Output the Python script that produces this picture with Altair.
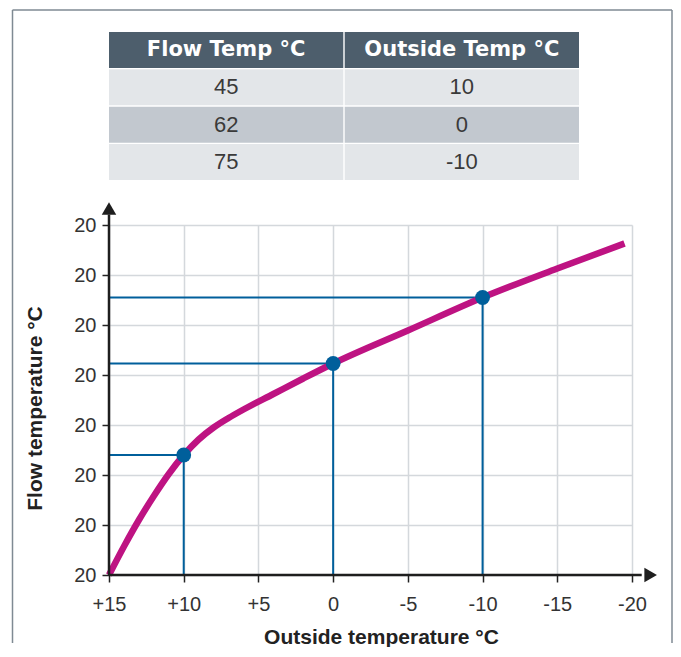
import altair as alt
import pandas as pd

# ---------------- data ----------------
table_headers = ["Flow Temp °C", "Outside Temp °C"]
flow_temp = [45, 62, 75]
outside_temp = [10, 0, -10]

curve_outside = [15, 14, 13, 12, 11, 10, 9, 8, 7, 6, 4, 2, 0, -5, -10, -15, -19.5]
curve_flow = [20, 25.7, 31, 35.8, 40.2, 44, 47.1, 49.5, 51.4, 53.1, 56.2, 59.3, 62.3,
              68.9, 75.5, 81.3, 86.3]

point_outside = [10, 0, -10]
point_flow = [44, 62.3, 75.5]

x_ticks = [15, 10, 5, 0, -5, -10, -15, -20]
x_tick_labels = ["+15", "+10", "+5", "0", "-5", "-10", "-15", "-20"]
y_ticks = [20, 30, 40, 50, 60, 70, 80, 90]
y_tick_labels = ["20", "20", "20", "20", "20", "20", "20", "20"]

x_min, x_max = 15, -20
y_min, y_max = 20, 90
x_arrow = -21.25
y_arrow = 93.3

MAGENTA = "#BE1382"
BLUE = "#005F9B"
FONT = "Liberation Sans"

# ---------------- table ----------------
rows = ["h", "r1", "r2", "r3"]
cells = []
for h in table_headers:
    cells.append({"row": "h", "col": h, "text": h, "kind": "header"})
for i, (f, o) in enumerate(zip(flow_temp, outside_temp)):
    kind = "dark" if i % 2 == 1 else "light"
    cells.append({"row": rows[i + 1], "col": table_headers[0], "text": str(f), "kind": kind})
    cells.append({"row": rows[i + 1], "col": table_headers[1], "text": str(o), "kind": kind})
tdf = pd.DataFrame(cells)

tx = alt.X("col:N", scale=alt.Scale(domain=table_headers, paddingInner=0.006, paddingOuter=0), axis=None)
ty = alt.Y("row:N", scale=alt.Scale(domain=rows, paddingInner=0.04, paddingOuter=0), axis=None)

t_rect = alt.Chart(tdf).mark_rect().encode(
    x=tx, y=ty,
    color=alt.Color("kind:N", scale=alt.Scale(domain=["header", "light", "dark"],
                                               range=["#4D5E6C", "#E3E6E9", "#C2C8CF"]), legend=None),
)
t_head = alt.Chart(tdf).transform_filter("datum.kind == 'header'").mark_text(
    font="DejaVu Sans", fontWeight="bold", fontSize=21, color="white", baseline="middle"
).encode(x=tx, y=ty, text="text:N")
t_body = alt.Chart(tdf).transform_filter("datum.kind != 'header'").mark_text(
    font=FONT, fontSize=22, color="#3A3A3A", baseline="middle"
).encode(x=tx, y=ty, text="text:N")

table = alt.layer(t_rect, t_head, t_body).properties(width=470, height=148)

# ---------------- main chart ----------------
xs = alt.Scale(domain=[x_min, x_max], nice=False, zero=False)
ys = alt.Scale(domain=[y_min, y_max], nice=False, zero=False)

x_label_expr = " : ".join(
    f"datum.value == {v} ? '{l}'" for v, l in zip(x_ticks, x_tick_labels)
) + " : ''"
y_label_expr = " : ".join(
    f"datum.value == {v} ? '{l}'" for v, l in zip(y_ticks, y_tick_labels)
) + " : ''"

x_axis = alt.Axis(values=x_ticks, labelExpr=x_label_expr, labelPadding=12, labelFlush=False,
                  labelOverlap=False, title="Outside temperature °C", titleX=272, titleY=62,
                  titleAlign="center", titleBaseline="middle", titleAngle=0)
y_axis = alt.Axis(values=y_ticks, labelExpr=y_label_expr, labelPadding=6, labelFlush=False,
                  labelOverlap=False, title="Flow temperature °C", titleX=-74, titleY=183,
                  titleAlign="center", titleBaseline="middle", titleAngle=270)

cdf = pd.DataFrame({"x": curve_outside, "y": curve_flow})
pdf = pd.DataFrame({"x": point_outside, "y": point_flow})
pdf["x0"] = x_min
pdf["y0"] = y_min

ref_h = alt.Chart(pdf).mark_rule(color=BLUE, strokeWidth=2).encode(
    x=alt.X("x0:Q", scale=xs, axis=x_axis), x2="x:Q", y=alt.Y("y:Q", scale=ys, axis=y_axis)
)
ref_v = alt.Chart(pdf).mark_rule(color=BLUE, strokeWidth=2).encode(
    x=alt.X("x:Q", scale=xs), y=alt.Y("y0:Q", scale=ys), y2="y:Q"
)
curve = alt.Chart(cdf).mark_line(color=MAGENTA, strokeWidth=6.5, interpolate="monotone").encode(
    x=alt.X("x:Q", scale=xs), y=alt.Y("y:Q", scale=ys)
)
pts = alt.Chart(pdf).mark_circle(color=BLUE, size=220, opacity=1).encode(
    x=alt.X("x:Q", scale=xs), y=alt.Y("y:Q", scale=ys)
)

axdf = pd.DataFrame({"x": [x_min], "y": [y_min], "xa": [x_arrow + 0.6], "ya": [y_arrow - 1.2],
                     "xt": [x_arrow], "yt": [y_arrow]})
ax_x = alt.Chart(axdf).mark_rule(color="#1E1E1E", strokeWidth=2.5).encode(
    x=alt.X("x:Q", scale=xs), x2="xa:Q", y=alt.Y("y:Q", scale=ys)
)
ax_y = alt.Chart(axdf).mark_rule(color="#1E1E1E", strokeWidth=2.5).encode(
    x=alt.X("x:Q", scale=xs), y=alt.Y("y:Q", scale=ys), y2="ya:Q"
)
arr_x = alt.Chart(axdf).mark_point(shape="triangle-right", filled=True, size=210, color="#1E1E1E", opacity=1).encode(
    x=alt.X("xt:Q", scale=xs), y=alt.Y("y:Q", scale=ys)
)
arr_y = alt.Chart(axdf).mark_point(shape="triangle-up", filled=True, size=210, color="#1E1E1E", opacity=1).encode(
    x=alt.X("x:Q", scale=xs), y=alt.Y("yt:Q", scale=ys)
)

# decorative frame around the figure (kept inside the 665px page width)
frame_l = alt.Chart(axdf).mark_rule(color="#7F8A93", strokeWidth=1.5).encode(
    x=alt.value(-96.5), y=alt.value(-215), y2=alt.value(418))
frame_t = alt.Chart(axdf).mark_rule(color="#7F8A93", strokeWidth=1.5).encode(
    x=alt.value(-96.5), x2=alt.value(563), y=alt.value(-215))
frame_r = alt.Chart(axdf).mark_rule(color="#7F8A93", strokeWidth=1.5).encode(
    x=alt.value(563), y=alt.value(-215), y2=alt.value(418))

main = alt.layer(ref_h, ref_v, curve, pts, ax_x, ax_y, arr_x, arr_y, frame_l, frame_t, frame_r).properties(
    width=523, height=350
)

chart = alt.vconcat(table, main, spacing=45, bounds="flush").properties(
    padding={"left": 3, "top": 1, "right": 0, "bottom": 0}
).configure_view(stroke=None).configure_axis(
    domain=False,
    ticks=True, tickColor="#222222", tickWidth=1.5, tickSize=7,
    grid=True, gridColor="#D4D8DC", gridWidth=1.5,
    labelFont=FONT, labelFontSize=20, labelColor="#333333",
    titleFont=FONT, titleFontSize=21, titleFontWeight="bold", titleColor="#222222",
)

chart.save("out.html", embed_options={"renderer": "svg", "actions": False})
